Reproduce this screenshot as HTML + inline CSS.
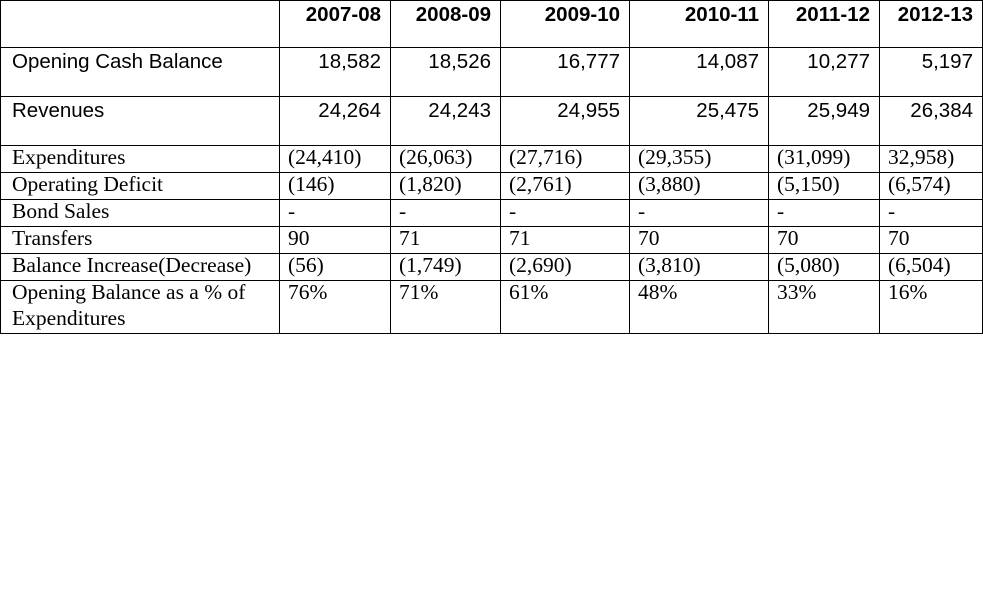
<!DOCTYPE html>
<html><head><meta charset="utf-8"><style>
body{margin:0;width:983px;height:600px;background:#fff;position:relative;overflow:hidden}
.l{position:absolute;background:#000}
.c{position:absolute;white-space:nowrap;color:#000}
.s{font-family:"Liberation Sans",sans-serif;font-size:20.5px;line-height:24px}
.h{font-family:"Liberation Sans",sans-serif;font-size:20.5px;font-weight:bold;line-height:24px}
.r{font-family:"Liberation Serif",serif;font-size:21.5px;line-height:26px}
</style></head><body>
<script>
const xs=[0,279,390,500,629,768,879,982];
const ys=[0,47,96,145,172,199,226,253,280,333];
const headers=["2007-08","2008-09","2009-10","2010-11","2011-12","2012-13"];
const labels=["Opening Cash Balance","Revenues","Expenditures","Operating Deficit","Bond Sales","Transfers","Balance Increase(Decrease)","Opening Balance as a % of<br>Expenditures"];
const rows=[
["18,582","18,526","16,777","14,087","10,277","5,197"],
["24,264","24,243","24,955","25,475","25,949","26,384"],
["(24,410)","(26,063)","(27,716)","(29,355)","(31,099)","32,958)"],
["(146)","(1,820)","(2,761)","(3,880)","(5,150)","(6,574)"],
["-","-","-","-","-","-"],
["90","71","71","70","70","70"],
["(56)","(1,749)","(2,690)","(3,810)","(5,080)","(6,504)"],
["76%","71%","61%","48%","33%","16%"]];
const b=document.body;
function add(cls,css,html,name){const d=document.createElement('div');d.className=cls;d.style.cssText=css;if(html)d.innerHTML=html;


b.appendChild(d);}
xs.forEach((x,i)=>add('l',`left:${x}px;top:0;width:1px;height:${ys[ys.length-1]+1}px`,'','col-line'));
ys.forEach((y,i)=>add('l',`left:0;top:${y}px;width:983px;height:1px`,'','row-line'));
headers.forEach((h,i)=>add('c h',`right:${983-xs[i+2]+9}px;top:3px`,h,'header-'+h));
labels.forEach((t,r)=>{
 const sans=r<2;
 add('c '+(sans?'s':'r'),`left:12px;top:${ys[r+1]+(sans?3:-1)}px`,t,'row-label');
 rows[r].forEach((v,i)=>{
  if(sans) add('c s',`right:${983-xs[i+2]+9}px;top:${ys[r+1]+3}px`,v,'cell');
  else add('c r',`left:${xs[i+1]+9}px;top:${ys[r+1]-1}px`,v,'cell');
 });
});
</script>
</body></html>
